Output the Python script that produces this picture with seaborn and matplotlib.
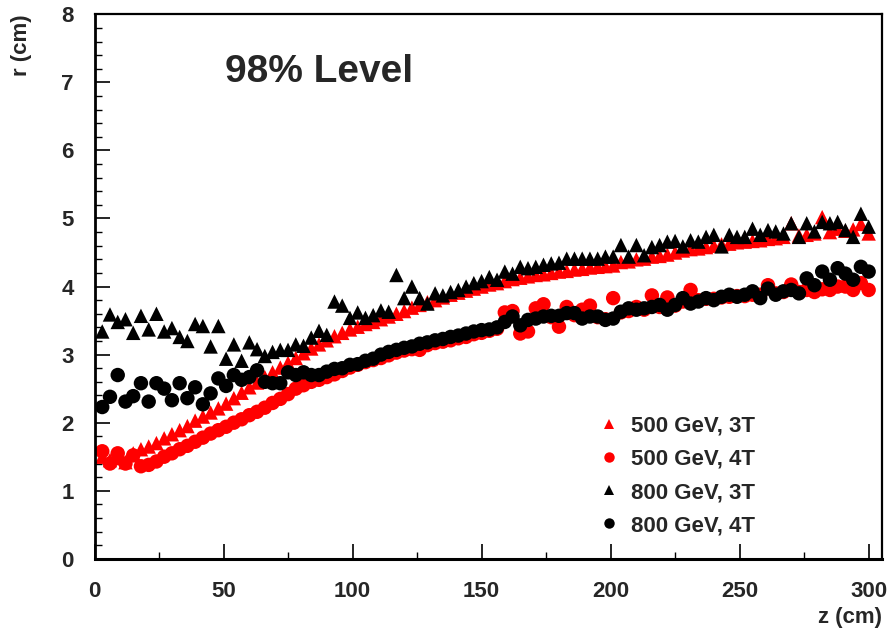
import numpy as np
import pandas as pd
import matplotlib
matplotlib.use("Agg")
import matplotlib.pyplot as plt
from matplotlib.lines import Line2D
from matplotlib.ticker import MultipleLocator
import seaborn as sns

# z positions (cm): one point every 3 cm
z_cm = np.arange(3, 301, 3)

r_500_3T = [1.50, 1.45, 1.48, 1.42, 1.55, 1.61, 1.65, 1.70, 1.77, 1.83,
            1.89, 1.95, 2.03, 2.09, 2.15, 2.21, 2.28, 2.36, 2.44, 2.52,
            2.59, 2.67, 2.74, 2.81, 2.88, 2.95, 3.02, 3.09, 3.15, 3.21,
            3.27, 3.32, 3.37, 3.41, 3.45, 3.48, 3.52, 3.56, 3.60, 3.64,
            3.69, 3.73, 3.77, 3.80, 3.84, 3.88, 3.91, 3.94, 3.97, 4.00,
            4.03, 4.05, 4.08, 4.11, 4.13, 4.15, 4.17, 4.18, 4.20, 4.22,
            4.23, 4.25, 4.26, 4.28, 4.29, 4.30, 4.31, 4.36, 4.37, 4.40,
            4.41, 4.44, 4.45, 4.47, 4.50, 4.53, 4.55, 4.56, 4.58, 4.60,
            4.62, 4.63, 4.65, 4.66, 4.67, 4.68, 4.70, 4.71, 4.73, 4.93,
            4.75, 4.76, 4.78, 5.02, 4.80, 4.85, 4.82, 4.84, 4.92, 4.78]

r_500_4T = [1.58, 1.40, 1.55, 1.40, 1.52, 1.36, 1.38, 1.43, 1.50, 1.55,
            1.61, 1.66, 1.72, 1.78, 1.84, 1.89, 1.94, 2.00, 2.05, 2.11,
            2.16, 2.22, 2.29, 2.35, 2.42, 2.50, 2.55, 2.60, 2.63, 2.67,
            2.71, 2.76, 2.81, 2.85, 2.89, 2.92, 2.95, 2.99, 3.03, 3.06,
            3.08, 3.07, 3.14, 3.17, 3.19, 3.21, 3.24, 3.26, 3.30, 3.32,
            3.35, 3.38, 3.62, 3.64, 3.31, 3.34, 3.68, 3.74, 3.55, 3.41,
            3.70, 3.58, 3.66, 3.72, 3.55, 3.52, 3.83, 3.62, 3.64, 3.70,
            3.66, 3.87, 3.70, 3.84, 3.72, 3.78, 3.95, 3.80, 3.82, 3.82,
            3.84, 3.85, 3.86, 3.86, 3.88, 3.88, 4.02, 3.90, 3.92, 4.03,
            3.92, 3.95, 3.92, 3.96, 3.95, 4.00, 4.00, 3.95, 4.05, 3.95]

r_800_3T = [3.34, 3.59, 3.48, 3.52, 3.32, 3.57, 3.37, 3.60, 3.34, 3.39,
            3.26, 3.20, 3.45, 3.42, 3.12, 3.42, 2.94, 3.15, 2.91, 3.18,
            3.08, 2.98, 3.04, 3.07, 3.07, 3.15, 3.13, 3.25, 3.35, 3.29,
            3.78, 3.72, 3.54, 3.62, 3.54, 3.58, 3.65, 3.63, 4.17, 3.83,
            4.00, 3.83, 3.75, 3.90, 3.87, 3.92, 3.95, 4.00, 4.05, 4.08,
            4.14, 4.10, 4.22, 4.19, 4.29, 4.27, 4.29, 4.32, 4.34, 4.35,
            4.41, 4.41, 4.41, 4.41, 4.41, 4.44, 4.44, 4.61, 4.44, 4.61,
            4.46, 4.58, 4.61, 4.66, 4.67, 4.59, 4.68, 4.66, 4.73, 4.76,
            4.59, 4.76, 4.73, 4.73, 4.85, 4.76, 4.83, 4.81, 4.78, 4.93,
            4.73, 4.93, 4.81, 4.95, 4.93, 4.95, 4.83, 4.73, 5.07, 4.88]

r_800_4T = [2.23, 2.38, 2.70, 2.31, 2.39, 2.58, 2.31, 2.58, 2.50, 2.33,
            2.58, 2.36, 2.52, 2.27, 2.43, 2.65, 2.54, 2.70, 2.63, 2.67,
            2.77, 2.60, 2.58, 2.58, 2.74, 2.70, 2.74, 2.70, 2.70, 2.75,
            2.79, 2.80, 2.85, 2.86, 2.91, 2.94, 3.00, 3.04, 3.07, 3.10,
            3.12, 3.16, 3.18, 3.21, 3.23, 3.26, 3.28, 3.31, 3.34, 3.36,
            3.37, 3.40, 3.48, 3.56, 3.43, 3.51, 3.53, 3.56, 3.57, 3.57,
            3.61, 3.61, 3.53, 3.56, 3.56, 3.51, 3.53, 3.63, 3.68, 3.66,
            3.68, 3.70, 3.73, 3.66, 3.73, 3.83, 3.75, 3.78, 3.83, 3.80,
            3.85, 3.88, 3.85, 3.88, 3.93, 3.83, 3.97, 3.88, 3.93, 3.95,
            3.90, 4.12, 4.02, 4.22, 4.10, 4.27, 4.19, 4.10, 4.29, 4.22]

series_names = ["500 GeV, 3T", "500 GeV, 4T", "800 GeV, 3T", "800 GeV, 4T"]
series_values = [r_500_3T, r_500_4T, r_800_3T, r_800_4T]
series_colors = ["#ff0000", "#ff0000", "#000000", "#000000"]
series_markers = ["^", "o", "^", "o"]

title_text = "98% Level"
x_label = "z (cm)"
y_label = "r (cm)"

df = pd.concat(
    [pd.DataFrame({"z": z_cm, "r": vals, "series": name})
     for name, vals in zip(series_names, series_values)],
    ignore_index=True)

sns.set_theme(style="ticks")
plt.rcParams["font.family"] = ["Liberation Sans", "DejaVu Sans"]
plt.rcParams["font.weight"] = "bold"

fig = plt.figure(figsize=(8.89, 6.33), dpi=100)
ax = fig.add_axes([0.1063, 0.1172, 0.8853, 0.8602])

sns.scatterplot(data=df, x="z", y="r", hue="series", style="series",
                palette=dict(zip(series_names, series_colors)),
                markers=dict(zip(series_names, series_markers)),
                s=108, linewidth=0, edgecolor="none", legend=False, ax=ax)

ax.set_xlim(0, 305)
ax.set_ylim(0, 8)
ax.xaxis.set_major_locator(MultipleLocator(50))
ax.xaxis.set_minor_locator(MultipleLocator(25))
ax.yaxis.set_major_locator(MultipleLocator(1))
ax.yaxis.set_minor_locator(MultipleLocator(0.2))
ax.tick_params(axis="both", which="major", direction="in", length=11,
               width=1.2, color="black", labelsize=16, pad=15,
               top=False, right=False)
ax.tick_params(axis="both", which="minor", direction="in", length=5,
               width=1.0, color="black", top=False, right=False)
ax.tick_params(axis="x", which="major", pad=16)
for lab in ax.get_xticklabels() + ax.get_yticklabels():
    lab.set_fontweight("bold")
for sp in ax.spines.values():
    sp.set_visible(True)
    sp.set_color("black")
    sp.set_linewidth(1.6)
ax.spines["bottom"].set_linewidth(2.2)
ax.spines["left"].set_linewidth(2.0)

ax.set_xlabel(x_label, fontsize=16, fontweight="bold", loc="right")
ax.xaxis.set_label_coords(1.0, -0.088)
ax.xaxis.label.set_va("top")
ax.set_ylabel(y_label, fontsize=16, fontweight="bold", loc="top")
ax.yaxis.set_label_coords(-0.08, 1.0)

ax.text(0.166, 0.876, title_text, transform=ax.transAxes, fontsize=28,
        fontweight="bold", ha="left", va="baseline")

handles = [Line2D([], [], linestyle="none", marker=m, color=c,
                  markersize=7.5, markeredgewidth=0)
           for m, c in zip(series_markers, series_colors)]
ax.legend(handles, series_names, loc="upper left",
          bbox_to_anchor=(0.643, 0.263), frameon=False,
          handlelength=0.8, handletextpad=0.55, labelspacing=0.55,
          borderpad=0, borderaxespad=0,
          prop={"weight": "bold", "size": 16})

fig.savefig("out.png", dpi=100)
